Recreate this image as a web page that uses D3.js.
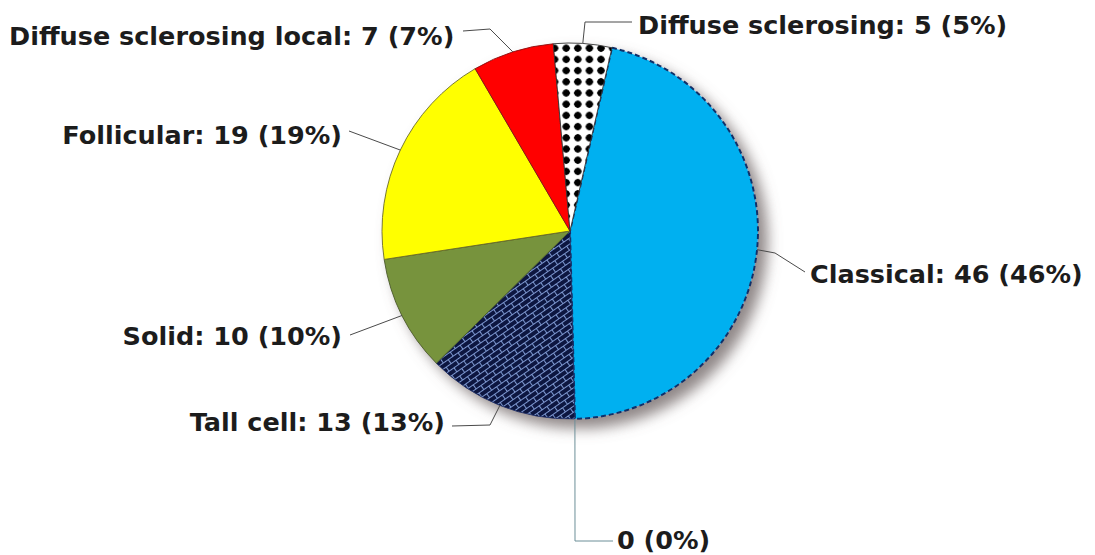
<!DOCTYPE html>
<html>
<head>
<meta charset="utf-8">
<script src="https://cdn.jsdelivr.net/npm/d3@7"></script>
<style>
  html, body { margin: 0; padding: 0; background: #ffffff; }
  svg { display: block; }
  .lbl { font-family: "DejaVu Sans", Verdana, sans-serif; font-weight: bold; font-size: 25.5px; fill: #1c1c1c; }
</style>
</head>
<body>
<svg id="chart" width="1095" height="555"></svg>
<script>
// Papillary carcinoma variants, case counts
const categories = ["Classical", "", "Tall cell", "Solid", "Follicular", "Diffuse sclerosing local", "Diffuse sclerosing"];
const counts = [46, 0, 13, 10, 19, 7, 5];
const percents = [46, 0, 13, 10, 19, 7, 5];

// Label placement: anchor, text position and leader-line elbow for each slice
const labelLayout = [
  { anchor: "start", x: 810, y: 283, path: [[775, 253], [805, 272]] },
  { anchor: "start", x: 617, y: 549, path: [[575, 541], [613, 541]] },
  { anchor: "end",   x: 445, y: 431, path: [[490, 425], [452, 426]] },
  { anchor: "end",   x: 342, y: 345, path: [[350, 335]] },
  { anchor: "end",   x: 342, y: 144, path: [[349, 131]] },
  { anchor: "start", x: 9,   y: 45,  path: [[490, 29], [463, 31]] },
  { anchor: "start", x: 638, y: 34,  path: [[585, 22], [632, 22]] }
];

const svg = d3.select("#chart");
const cx = 570, cy = 231, R = 188;
const startAngle = 12.9 * Math.PI / 180;

const defs = svg.append("defs");

// soft drop shadow under the pie
const sh = defs.append("filter").attr("id", "shadow")
  .attr("x", "-20%").attr("y", "-20%").attr("width", "150%").attr("height", "150%");
sh.append("feGaussianBlur").attr("in", "SourceAlpha").attr("stdDeviation", 7).attr("result", "b");
sh.append("feOffset").attr("in", "b").attr("dx", 9).attr("dy", 9).attr("result", "o");
sh.append("feFlood").attr("flood-color", "#756b6b").attr("flood-opacity", 0.8).attr("result", "c");
sh.append("feComposite").attr("in", "c").attr("in2", "o").attr("operator", "in").attr("result", "s");
const m = sh.append("feMerge");
m.append("feMergeNode").attr("in", "s");
m.append("feMergeNode").attr("in", "SourceGraphic");

// diagonal brick fill
const brick = defs.append("pattern").attr("id", "brick")
  .attr("patternUnits", "userSpaceOnUse").attr("width", 12).attr("height", 10)
  .attr("patternTransform", "rotate(-35)");
brick.append("rect").attr("width", 12).attr("height", 10).attr("fill", "#0a1540");
brick.append("path")
  .attr("d", "M0,0.5H12M0,5.5H12M0.5,0V5.5M6.5,5.5V10")
  .attr("stroke", "#7e97cf").attr("stroke-width", 1.1).attr("fill", "none");

// dotted fill
const dots = defs.append("pattern").attr("id", "dots")
  .attr("patternUnits", "userSpaceOnUse").attr("width", 11.6).attr("height", 11.2)
  .attr("x", 2).attr("y", 2);
dots.append("rect").attr("width", 11.6).attr("height", 11.2).attr("fill", "#ffffff");
dots.append("path").attr("d", "M5.8,1.6L10,5.6L5.8,9.6L1.6,5.6Z").attr("fill", "#000");
dots.append("circle").attr("cx", 5.8).attr("cy", 5.6).attr("r", 3.5).attr("fill", "#000");

const fills = ["#00b0f0", "#00b0f0", "url(#brick)", "#77933c", "#ffff00", "#ff0000", "url(#dots)"];
const strokes = ["#10306a", "#10306a", "#1b2f66", "#4b5a2a", "#6b6b2a", "#8a1010", "#333333"];

const data = categories.map((c, i) => ({ name: c, value: counts[i], pct: percents[i] }));

const pie = d3.pie().sort(null).value(d => d.value)
  .startAngle(startAngle).endAngle(startAngle + 2 * Math.PI);
const arcs = pie(data);
const arc = d3.arc().innerRadius(0).outerRadius(R);

const g = svg.append("g").attr("transform", `translate(${cx},${cy})`);
const pieG = g.append("g").attr("filter", "url(#shadow)");

pieG.selectAll("path.slice")
  .data(arcs.filter(d => d.data.value > 0))
  .join("path")
  .attr("class", "slice")
  .attr("d", arc)
  .attr("fill", d => fills[d.index])
  .attr("stroke", d => strokes[d.index])
  .attr("stroke-width", d => d.index === 0 ? 2 : 0.9)
  .attr("stroke-dasharray", d => d.index === 0 ? "5,3" : null)
  .attr("stroke-linejoin", "round");

// leader lines from slice edge to each label
const line = d3.line();
arcs.forEach((d, i) => {
  const mid = (d.startAngle + d.endAngle) / 2;
  const edge = [cx + R * Math.sin(mid), cy - R * Math.cos(mid)];
  const pts = [edge].concat(labelLayout[i].path);
  svg.append("path")
    .attr("d", line(pts))
    .attr("fill", "none")
    .attr("stroke", i === 1 ? "#6c8f98" : "#4a4a4a")
    .attr("stroke-width", 1);
});

// labels
svg.selectAll("text.lbl")
  .data(arcs)
  .join("text")
  .attr("class", "lbl")
  .attr("x", (d, i) => labelLayout[i].x)
  .attr("y", (d, i) => labelLayout[i].y)
  .attr("text-anchor", (d, i) => labelLayout[i].anchor)
  .text(d => (d.data.name ? d.data.name + ": " : "") + d.data.value + " (" + d.data.pct + "%)");
</script>
</body>
</html>
